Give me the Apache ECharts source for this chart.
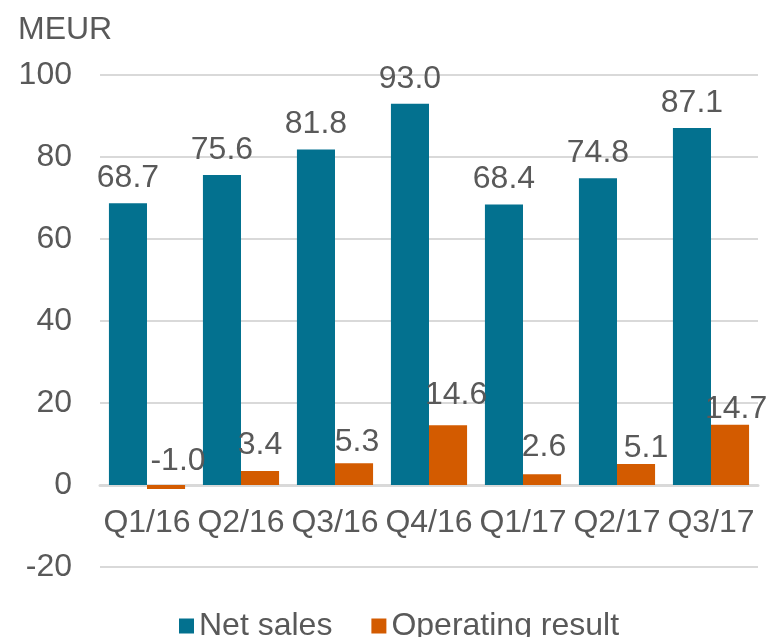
<!DOCTYPE html>
<html>
<head>
<meta charset="utf-8">
<script src="https://cdn.jsdelivr.net/npm/echarts@6/dist/echarts.min.js"></script>
<style>
  html, body { margin: 0; padding: 0; background: #fff; }
  #chart { width: 766px; height: 637px; }
</style>
</head>
<body>
<div id="chart"></div>
<script>
// quarters and values
const quarters = ['Q1/16', 'Q2/16', 'Q3/16', 'Q4/16', 'Q1/17', 'Q2/17', 'Q3/17']
const netSales = [68.7, 75.6, 81.8, 93.0, 68.4, 74.8, 87.1]
const operatingResult = [-1.0, 3.4, 5.3, 14.6, 2.6, 5.1, 14.7]

// small label nudges (px) so the orange labels clear the blue bars, like the original
const opLabelNudge = [[12, 1], [0, -1], [3, 4], [8, -5], [2, -2], [10, 9], [6, 9]]

const textColor = '#595959'
const font = 'Liberation Sans, Arial, sans-serif'
const fs = 32

const chart = echarts.init(document.getElementById('chart'))

const labelStyle = {
  show: true,
  position: 'top',
  distance: 9,
  color: textColor,
  fontSize: fs,
  fontFamily: font,
  formatter: p => p.value.toFixed(1)
}

const opData = operatingResult.map((v, i) => ({ value: v, label: { offset: opLabelNudge[i] } }))

chart.setOption({
  animation: false,
  title: {
    text: 'MEUR',
    left: 13,
    top: 9,
    textStyle: { color: textColor, fontSize: fs, fontWeight: 'normal', fontFamily: font }
  },
  grid: {
    left: 100,
    right: 8,
    top: 75,
    bottom: 70,
    outerBoundsMode: 'none'
  },
  legend: {
    top: 605,
    left: 174,
    itemWidth: 15,
    itemHeight: 15,
    itemGap: 39,
    icon: 'rect',
    textStyle: { color: textColor, fontSize: fs, fontFamily: font },
    data: ['Net sales', 'Operating result']
  },
  xAxis: {
    type: 'category',
    data: quarters,
    axisLine: { show: true, onZero: true, lineStyle: { color: '#d9d9d9', width: 3 } },
    axisTick: { show: false },
    // labels sit just under the zero line (82px above the plot bottom)
    axisLabel: { color: textColor, fontSize: fs, fontFamily: font, margin: -60, interval: 0 }
  },
  yAxis: {
    type: 'value',
    min: -20,
    max: 100,
    interval: 20,
    axisLine: { show: false },
    axisTick: { show: false },
    axisLabel: { color: textColor, fontSize: fs, fontFamily: font, margin: 28 },
    splitLine: { lineStyle: { color: '#d9d9d9', width: 2 } }
  },
  series: [
    {
      name: 'Net sales',
      type: 'bar',
      data: netSales,
      barGap: '0%',
      barCategoryGap: '19%',
      itemStyle: { color: '#03718f' },
      label: labelStyle
    },
    {
      name: 'Operating result',
      type: 'bar',
      z: 3,
      data: opData,
      itemStyle: { color: '#d35b00' },
      label: labelStyle
    }
  ]
})
</script>
</body>
</html>
